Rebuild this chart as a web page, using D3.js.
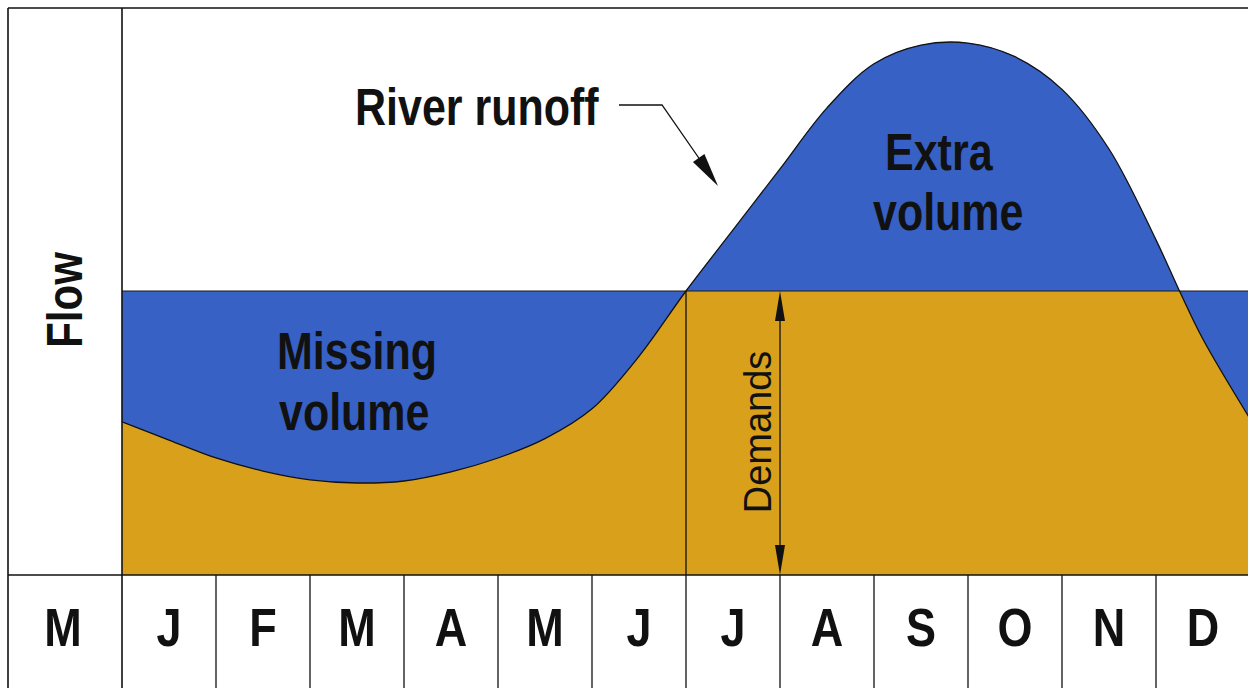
<!DOCTYPE html>
<head>
<meta charset="utf-8">
<style>
    body { margin: 0; background: #fff; }
    svg { display: block; font-family: "Liberation Sans", Arial, sans-serif; }
    .lbl { font-weight: bold; fill: #111; }
</style>
<script src="https://d3js.org/d3.v7.min.js"></script>
</head>
<body>
<script>
// months shown along the bottom row (the first one is the previous May, in the header column)
var prevMonth = "M";
var months = ["J", "F", "M", "A", "M", "J", "J", "A", "S", "O", "N", "D"];

// river runoff (time in months from 1 Jan, flow in arbitrary units)
var runoffT = [0, 0.5, 1, 1.5, 2, 2.5, 3, 3.5, 4, 4.5, 5, 5.5, 6, 6.5, 7, 7.5, 8, 8.5, 9, 9.5, 10, 10.5, 11, 11.25, 11.5, 12];
var runoffQ = [53.9, 47.5, 41.2, 36.6, 33.5, 32.4, 33.1, 36.3, 41.2, 48.0, 58.5, 77.0, 100, 121.5, 143, 164.5, 180, 186.6, 187.3, 182.5, 171, 150, 118, 100, 83, 55];

// constant demand
var demand = 100;

var W = 1248, H = 688;
var frameL = 8, frameT = 8, colR = 122, rowT = 575;

var blue = "#3761c4",
    orange = "#d9a01c";

var x = d3.scaleLinear().domain([0, 12]).range([colR, colR + 94 * 12]);
var y = d3.scaleLinear().domain([0, 200]).range([rowT, rowT - 568]);

var svg = d3.select("body").append("svg")
    .attr("width", W)
    .attr("height", H);

var defs = svg.append("defs");
defs.append("clipPath").attr("id", "plot")
  .append("rect")
    .attr("x", colR).attr("y", frameT)
    .attr("width", W - colR).attr("height", rowT - frameT);
defs.append("clipPath").attr("id", "below")
  .append("rect")
    .attr("x", colR).attr("y", y(demand))
    .attr("width", W - colR).attr("height", rowT - y(demand));

var pts = runoffT.map(function(t, i) { return [t, runoffQ[i]]; });

var area = d3.area()
    .x(function(d) { return x(d[0]); })
    .y0(y(0))
    .y1(function(d) { return y(d[1]); })
    .curve(d3.curveCatmullRom);

var line = d3.line()
    .x(function(d) { return x(d[0]); })
    .y(function(d) { return y(d[1]); })
    .curve(d3.curveCatmullRom);

var plot = svg.append("g").attr("clip-path", "url(#plot)");

// blue under the runoff and under the demand
plot.append("path").datum(pts).attr("d", area).attr("fill", blue);
plot.append("rect")
    .attr("x", colR).attr("y", y(demand))
    .attr("width", W - colR).attr("height", y(0) - y(demand))
    .attr("fill", blue);
// orange = water actually used (below both)
plot.append("path").datum(pts).attr("d", area)
    .attr("fill", orange)
    .attr("clip-path", "url(#below)");

// demand level and runoff outline
plot.append("line")
    .attr("x1", colR).attr("x2", W)
    .attr("y1", y(demand)).attr("y2", y(demand))
    .attr("stroke", "#1a1a1a").attr("stroke-width", 1.2);
plot.append("path").datum(pts).attr("d", line)
    .attr("fill", "none").attr("stroke", "#111").attr("stroke-width", 1.3);
plot.append("line")
    .attr("x1", x(6)).attr("x2", x(6))
    .attr("y1", y(demand)).attr("y2", y(0))
    .attr("stroke", "#111").attr("stroke-width", 1.3);

// frame and month grid
var frame = svg.append("g").attr("stroke", "#111").attr("stroke-width", 1.6);
frame.append("line").attr("x1", frameL).attr("x2", W).attr("y1", frameT).attr("y2", frameT);
frame.append("line").attr("x1", frameL).attr("x2", frameL).attr("y1", frameT).attr("y2", H);
frame.append("line").attr("x1", colR).attr("x2", colR).attr("y1", frameT).attr("y2", H);
frame.append("line").attr("x1", frameL).attr("x2", W).attr("y1", rowT).attr("y2", rowT);
frame.selectAll("line.m")
    .data(d3.range(1, 12))
  .enter().append("line")
    .attr("class", "m")
    .attr("x1", function(d) { return x(d); })
    .attr("x2", function(d) { return x(d); })
    .attr("y1", rowT).attr("y2", H)
    .attr("stroke-width", 1.3);

// month labels
function boldText(tx, ty, rot, size, anchor, str) {
    svg.append("text")
        .attr("class", "lbl")
        .attr("transform", "translate(" + tx + "," + ty + ") rotate(" + rot + ") scale(1,1.2)")
        .attr("text-anchor", anchor)
        .style("font-size", size + "px")
        .text(str);
}
boldText((frameL + colR) / 2 - 2, 646, 0, 45, "middle", prevMonth);
months.forEach(function(m, i) {
    boldText(x(i + 0.5), 646, 0, 45, "middle", m);
});

boldText(82, 300, -90, 42, "middle", "Flow");
boldText(355, 125, 0, 43, "start", "River runoff");
boldText(277, 369, 0, 43, "start", "Missing");
boldText(279, 430, 0, 43, "start", "volume");
boldText(885, 170, 0, 43, "start", "Extra");
boldText(873, 230, 0, 43, "start", "volume");

// arrows
function arrowHead(x0, y0, x1, y1, len, half) {
    var dx = x1 - x0, dy = y1 - y0, L = Math.sqrt(dx * dx + dy * dy);
    var ux = dx / L, uy = dy / L;
    var bx = x1 - ux * len, by = y1 - uy * len;
    svg.append("path")
        .attr("d", "M" + x1 + "," + y1 +
                   "L" + (bx - uy * half) + "," + (by + ux * half) +
                   "L" + (bx + uy * half) + "," + (by - ux * half) + "Z")
        .attr("fill", "#111");
}

// river runoff pointer
svg.append("path")
    .attr("d", "M619,105L662,105L712,177")
    .attr("fill", "none").attr("stroke", "#111").attr("stroke-width", 1.3);
arrowHead(662, 105, 718, 186, 34, 7);

// demands double arrow
var ax = x(7);
svg.append("line")
    .attr("x1", ax).attr("x2", ax)
    .attr("y1", y(demand) + 10).attr("y2", y(0) - 10)
    .attr("stroke", "#111").attr("stroke-width", 1.3);
arrowHead(ax, y(0), ax, y(demand), 30, 5);
arrowHead(ax, y(demand), ax, y(0), 30, 5);

svg.append("text")
    .attr("transform", "translate(771,432) rotate(-90)")
    .attr("text-anchor", "middle")
    .style("font-size", "38px")
    .attr("fill", "#111")
    .text("Demands");
</script>
</body>
